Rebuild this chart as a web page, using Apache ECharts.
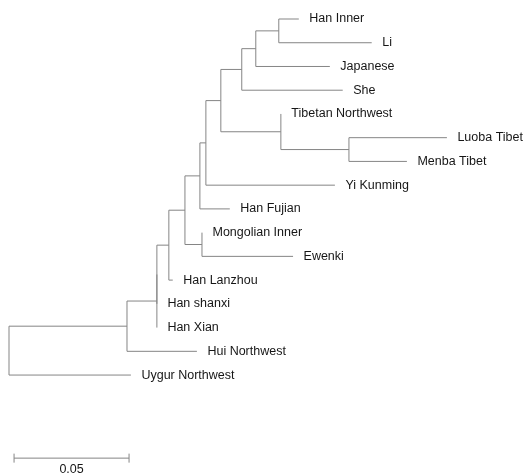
<!DOCTYPE html>
<html>
<head>
<meta charset="utf-8">
<script src="https://cdn.jsdelivr.net/npm/echarts@6/dist/echarts.min.js"></script>
<style>
html, body { margin: 0; padding: 0; background: #fff; }
#tree { width: 527px; height: 473px; }
</style>
</head>
<body>
<div id="tree"></div>
<script>
// tree nodes (internal nodes have no name), parent index and branch length
var nodeNames = ["", "", "Uygur Northwest", "", "Hui Northwest", "", "Han Xian", "", "Han shanxi",
  "", "Han Lanzhou", "", "", "Mongolian Inner", "Ewenki", "", "Han Fujian", "", "Yi Kunming",
  "", "", "", "She", "", "Japanese", "Han Inner", "Li", "Tibetan Northwest", "", "Luoba Tibet", "Menba Tibet"];
var nodeParents = [-1, 0, 0, 1, 1, 3, 3, 5, 5, 7, 7, 9, 9, 12, 12, 11, 11, 15, 15,
  17, 17, 19, 19, 21, 21, 23, 23, 20, 20, 28, 28];
var branchLengths = [0, 0.0513, 0.0530, 0.0130, 0.0304, 0, 0, 0.0052, 0, 0.0070, 0.0017,
  0.0065, 0.0074, 0, 0.0396, 0.0026, 0.0130, 0.0065, 0.0561, 0.0091, 0.0261,
  0.0061, 0.0439, 0.0100, 0.0322, 0.0087, 0.0404, 0, 0.0296, 0.0426, 0.0252];
var scaleBarLength = 0.05;
var scaleBarLabel = "0.05";

var children = nodeNames.map(function () { return []; });
nodeParents.forEach(function (p, i) { if (p >= 0) children[p].push(i); });

var depth = [], ypos = [], leafCount = 0;
function layout(i, d) {
  depth[i] = d + branchLengths[i];
  if (children[i].length === 0) {
    ypos[i] = leafCount++;
  } else {
    children[i].forEach(function (c) { layout(c, depth[i]); });
    var k = children[i];
    ypos[i] = (ypos[k[0]] + ypos[k[k.length - 1]]) / 2;
  }
}
layout(0, 0);

// rows: [parent depth, depth, y, first child y, last child y, is leaf, name]
var rows = nodeNames.map(function (n, i) {
  var k = children[i];
  var p = nodeParents[i] >= 0 ? depth[nodeParents[i]] : depth[i];
  return [p, depth[i], ypos[i],
    k.length ? ypos[k[0]] : ypos[i],
    k.length ? ypos[k[k.length - 1]] : ypos[i],
    k.length ? 0 : 1, n];
});

var lineStyle = { stroke: "#858585", lineWidth: 1 };
var font = '12.5px "Liberation Sans", Arial, sans-serif';

var chart = echarts.init(document.getElementById("tree"));
chart.setOption({
  animation: false,
  grid: { left: 9, right: 58, top: 19, bottom: 3 },
  xAxis: { type: "value", min: 0, max: 0.2, show: false },
  yAxis: { type: "value", inverse: true, min: 0, max: 19, show: false },
  series: [
    {
      type: "custom",
      data: rows,
      renderItem: function (params, api) {
        var a = api.coord([api.value(0), api.value(2)]);
        var b = api.coord([api.value(1), api.value(2)]);
        var items = [];
        if (b[0] - a[0] > 0.5) {
          items.push({ type: "line", shape: { x1: a[0], y1: b[1], x2: b[0], y2: b[1] }, style: lineStyle });
        }
        if (api.value(5)) {
          items.push({
            type: "text", x: b[0] + 10.5, y: b[1],
            style: { text: rows[params.dataIndex][6], fill: "#161616", font: font, align: "left", verticalAlign: "middle" }
          });
        } else {
          var t = api.coord([api.value(1), api.value(3)]);
          var u = api.coord([api.value(1), api.value(4)]);
          items.push({ type: "line", shape: { x1: t[0], y1: t[1], x2: u[0], y2: u[1] }, style: lineStyle });
        }
        return { type: "group", children: items };
      }
    },
    {
      type: "custom",
      data: [[0.0022, 0.0022 + scaleBarLength, 18.5]],
      renderItem: function (params, api) {
        var a = api.coord([api.value(0), api.value(2)]);
        var b = api.coord([api.value(1), api.value(2)]);
        return {
          type: "group",
          children: [
            { type: "line", shape: { x1: a[0], y1: a[1], x2: b[0], y2: b[1] }, style: lineStyle },
            { type: "line", shape: { x1: a[0], y1: a[1] - 4.5, x2: a[0], y2: a[1] + 4.5 }, style: lineStyle },
            { type: "line", shape: { x1: b[0], y1: b[1] - 4.5, x2: b[0], y2: b[1] + 4.5 }, style: lineStyle },
            {
              type: "text", x: (a[0] + b[0]) / 2, y: a[1] + 11.5,
              style: { text: scaleBarLabel, fill: "#161616", font: font, align: "center", verticalAlign: "middle" }
            }
          ]
        };
      }
    }
  ]
});
</script>
</body>
</html>
